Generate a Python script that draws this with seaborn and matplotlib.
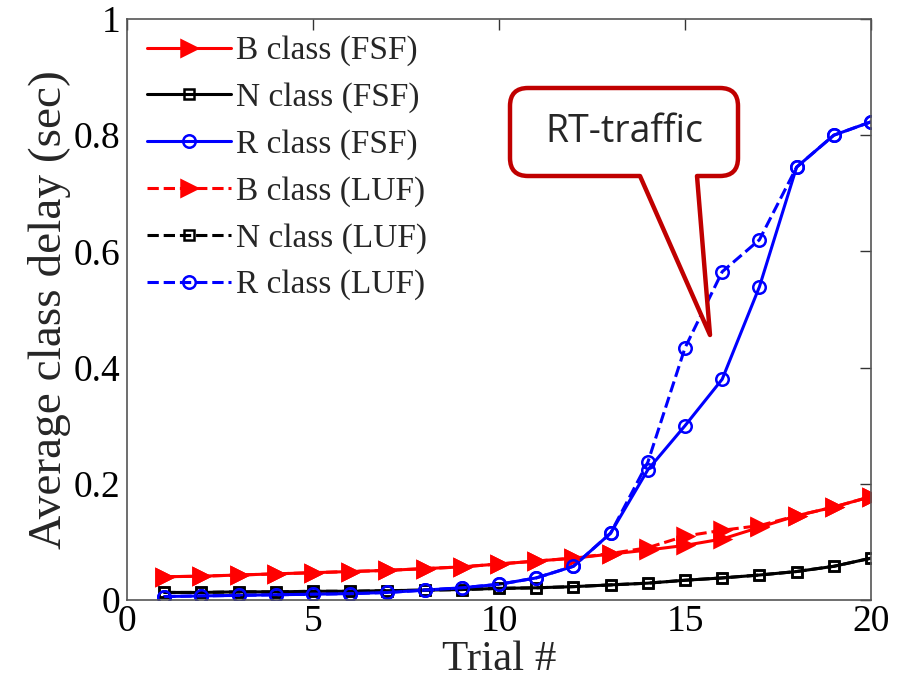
import matplotlib
matplotlib.use('Agg')
import matplotlib.pyplot as plt
import seaborn as sns
from matplotlib.path import Path
from matplotlib.patches import PathPatch

# Data
trials = list(range(1, 21))

b_fsf = [0.040, 0.041, 0.043, 0.045, 0.047, 0.049, 0.051, 0.054, 0.057, 0.062,
         0.067, 0.072, 0.079, 0.086, 0.094, 0.105, 0.125, 0.145, 0.160, 0.178]
n_fsf = [0.013, 0.013, 0.014, 0.014, 0.015, 0.015, 0.016, 0.017, 0.018, 0.020,
         0.021, 0.023, 0.026, 0.029, 0.034, 0.038, 0.043, 0.049, 0.058, 0.072]
r_fsf = [0.006, 0.007, 0.008, 0.009, 0.010, 0.011, 0.013, 0.017, 0.021, 0.027,
         0.038, 0.058, 0.115, 0.224, 0.300, 0.380, 0.539, 0.745, 0.800, 0.823]
b_luf = [0.040, 0.041, 0.043, 0.045, 0.047, 0.049, 0.051, 0.054, 0.057, 0.062,
         0.067, 0.072, 0.080, 0.090, 0.110, 0.120, 0.128, 0.145, 0.160, 0.178]
n_luf = [0.013, 0.013, 0.014, 0.014, 0.015, 0.015, 0.016, 0.017, 0.018, 0.020,
         0.021, 0.023, 0.026, 0.029, 0.034, 0.038, 0.043, 0.049, 0.058, 0.072]
r_luf = [0.006, 0.007, 0.008, 0.009, 0.010, 0.011, 0.013, 0.017, 0.021, 0.027,
         0.038, 0.058, 0.115, 0.237, 0.434, 0.565, 0.620, 0.745, 0.800, 0.823]

labels = ['B class (FSF)', 'N class (FSF)', 'R class (FSF)',
          'B class (LUF)', 'N class (LUF)', 'R class (LUF)']

sns.set_theme(style='white')
plt.rcParams['font.family'] = ['Liberation Serif', 'DejaVu Serif']

fig = plt.figure(figsize=(9.01, 6.86), dpi=100)
ax = fig.add_axes([127 / 901, 1 - 600 / 686, 744 / 901, 581 / 686])

series = [
    (b_fsf, 'red', '>', '-', 'red'),
    (n_fsf, 'black', 's', '-', 'none'),
    (r_fsf, 'blue', 'o', '-', 'none'),
    (b_luf, 'red', '>', '--', 'red'),
    (n_luf, 'black', 's', '--', 'none'),
    (r_luf, 'blue', 'o', '--', 'none'),
]
sizes = {'>': 11, 's': 7, 'o': 9}

for (vals, col, mk, ls, fc), lab in zip(series, labels):
    sns.lineplot(x=trials, y=vals, ax=ax, color=col, marker=mk, linestyle=ls,
                 markerfacecolor=fc, markeredgecolor=col, markeredgewidth=1.8,
                 markersize=sizes[mk], linewidth=2.2, label=lab)

ax.set_xlim(0, 20)
ax.set_ylim(0, 1)
ax.set_xticks([0, 5, 10, 15, 20])
ax.set_yticks([0, 0.2, 0.4, 0.6, 0.8, 1])
ax.set_yticklabels(['0', '0.2', '0.4', '0.6', '0.8', '1'])
ax.tick_params(direction='in', length=8, width=1, top=True, right=True,
               labelsize=27, colors='#333333', labelcolor='black', pad=3)
ax.tick_params(axis='y', pad=5)
for s in ax.spines.values():
    s.set_color('#555555')
    s.set_linewidth(1.2)

ax.set_xlabel('Trial #', fontsize=31, labelpad=1)
ax.set_ylabel('Average class delay (sec)', fontsize=34, labelpad=2)

leg = ax.legend(loc='upper left', frameon=False, fontsize=24, handlelength=2.5,
                handletextpad=0.15, labelspacing=0.48, borderaxespad=0.1,
                bbox_to_anchor=(0.005, 1.0))

# callout box "RT-traffic" (pixel coordinates of the image)
def px(x, y):
    return (x / 901, 1 - y / 686)

L, R, T, B, r = 510, 738, 88, 176, 18
pts = [
    (px(L + r, T), Path.MOVETO),
    (px(R - r, T), Path.LINETO),
    (px(R, T), Path.CURVE3), (px(R, T + r), Path.CURVE3),
    (px(R, B - r), Path.LINETO),
    (px(R, B), Path.CURVE3), (px(R - r, B), Path.CURVE3),
    (px(697, B), Path.LINETO),
    (px(710, 335), Path.LINETO),
    (px(640, B), Path.LINETO),
    (px(L + r, B), Path.LINETO),
    (px(L, B), Path.CURVE3), (px(L, B - r), Path.CURVE3),
    (px(L, T + r), Path.LINETO),
    (px(L, T), Path.CURVE3), (px(L + r, T), Path.CURVE3),
    (px(L + r, T), Path.CLOSEPOLY),
]
verts, codes = zip(*pts)
callout = PathPatch(Path(verts, codes), transform=fig.transFigure,
                    facecolor='white', edgecolor='#C00000', linewidth=3.2,
                    joinstyle='round', zorder=10)
fig.patches.append(callout)
fig.text(624 / 901, 1 - 132 / 686, 'RT-traffic', ha='center', va='center',
         fontsize=27, family=['Open Sans', 'DejaVu Sans'], zorder=11)

fig.savefig('out.png', dpi=100)
